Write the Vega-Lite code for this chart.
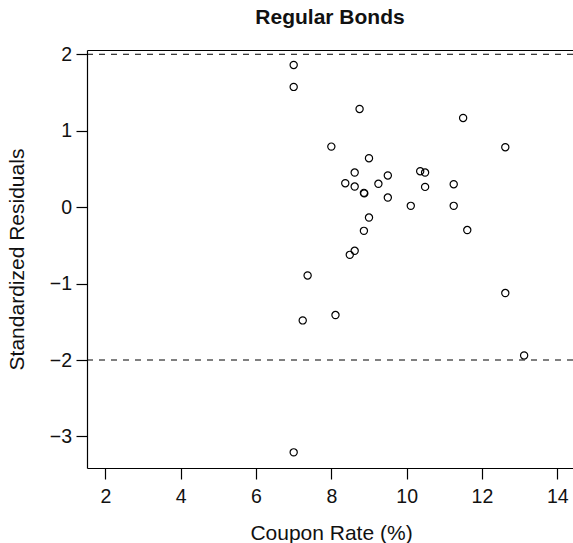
{
  "$schema": "https://vega.github.io/schema/vega-lite/v6.json",
  "autosize": {"type": "none"},
  "padding": {"left": 87, "top": 50, "right": 0, "bottom": 75},
  "width": 486,
  "height": 418,
  "background": "white",
  "config": {
    "view": {"stroke": null},
    "font": "Liberation Sans",
    "axis": {
      "grid": false,
      "domainColor": "#000",
      "domainWidth": 1.2,
      "tickColor": "#000",
      "tickWidth": 1.2,
      "tickSize": 11,
      "labelColor": "#111",
      "labelFont": "Liberation Sans",
      "labelFontSize": 19.5,
      "titleColor": "#111",
      "titleFont": "Liberation Sans",
      "titleFontSize": 21,
      "titleFontWeight": "normal"
    }
  },
  "title": {
    "text": "Regular Bonds",
    "font": "Liberation Sans",
    "fontSize": 21,
    "fontWeight": "bold",
    "color": "#111",
    "anchor": "middle",
    "frame": "group",
    "baseline": "alphabetic",
    "offset": -1
  },
  "datasets": {
    "pts": [
      {"coupon": 7.0, "resid": 1.86},
      {"coupon": 7.0, "resid": 1.573},
      {"coupon": 8.75, "resid": 1.285},
      {"coupon": 11.5, "resid": 1.167},
      {"coupon": 8.0, "resid": 0.792},
      {"coupon": 12.62, "resid": 0.784},
      {"coupon": 9.0, "resid": 0.64},
      {"coupon": 8.62, "resid": 0.453},
      {"coupon": 9.5, "resid": 0.414},
      {"coupon": 10.36, "resid": 0.47},
      {"coupon": 10.49, "resid": 0.453},
      {"coupon": 8.37, "resid": 0.313},
      {"coupon": 8.62, "resid": 0.27},
      {"coupon": 9.25, "resid": 0.305},
      {"coupon": 10.49, "resid": 0.265},
      {"coupon": 11.25, "resid": 0.3},
      {"coupon": 8.865, "resid": 0.187},
      {"coupon": 8.875, "resid": 0.18},
      {"coupon": 9.5, "resid": 0.126},
      {"coupon": 10.11, "resid": 0.017},
      {"coupon": 11.25, "resid": 0.017},
      {"coupon": 9.0, "resid": -0.136},
      {"coupon": 8.865, "resid": -0.31},
      {"coupon": 11.61, "resid": -0.3},
      {"coupon": 8.62, "resid": -0.571},
      {"coupon": 8.49, "resid": -0.624},
      {"coupon": 7.37, "resid": -0.894},
      {"coupon": 12.62, "resid": -1.124},
      {"coupon": 8.11, "resid": -1.412},
      {"coupon": 7.24, "resid": -1.482},
      {"coupon": 13.12, "resid": -1.94},
      {"coupon": 7.0, "resid": -3.208}
    ],
    "refs": [{"resid": 2}, {"resid": -2}]
  },
  "resolve": {"axis": {"x": "independent"}},
  "layer": [
    {
      "data": {"name": "refs"},
      "mark": {"type": "rule", "color": "#000", "strokeWidth": 1, "strokeDash": [6, 6]},
      "encoding": {
        "y": {"field": "resid", "type": "quantitative", "scale": {"domain": [-3.413, 2.056], "zero": false, "nice": false}}
      }
    },
    {
      "data": {"name": "pts"},
      "mark": {"type": "point", "shape": "circle", "filled": false, "color": "#000", "size": 52, "strokeWidth": 1.2, "opacity": 1},
      "encoding": {
        "x": {
          "field": "coupon", "type": "quantitative",
          "scale": {"domain": [1.511, 14.418], "zero": false, "nice": false},
          "axis": {
            "orient": "bottom",
            "values": [2, 4, 6, 8, 10, 12, 14],
            "format": "d",
            "labelPadding": 8,
            "title": "Coupon Rate (%)",
            "titleX": 244,
            "titleY": 71,
            "titleBaseline": "alphabetic",
            "titleAlign": "center",
            "titleAnchor": null
          }
        },
        "y": {
          "field": "resid", "type": "quantitative",
          "scale": {"domain": [-3.413, 2.056], "zero": false, "nice": false},
          "axis": {
            "values": [-3, -2, -1, 0, 1, 2],
            "format": "d",
            "labelPadding": 4.5,
            "title": "Standardized Residuals",
            "titleX": -64,
            "titleY": 209,
            "titleAngle": 270,
            "titleBaseline": "alphabetic",
            "titleAlign": "center",
            "titleAnchor": null
          }
        }
      }
    },
    {
      "data": {"name": "pts"},
      "mark": {"type": "point", "opacity": 0},
      "encoding": {
        "x": {
          "field": "coupon", "type": "quantitative",
          "axis": {"orient": "top", "labels": false, "ticks": false, "title": null, "domain": true}
        }
      }
    }
  ]
}
